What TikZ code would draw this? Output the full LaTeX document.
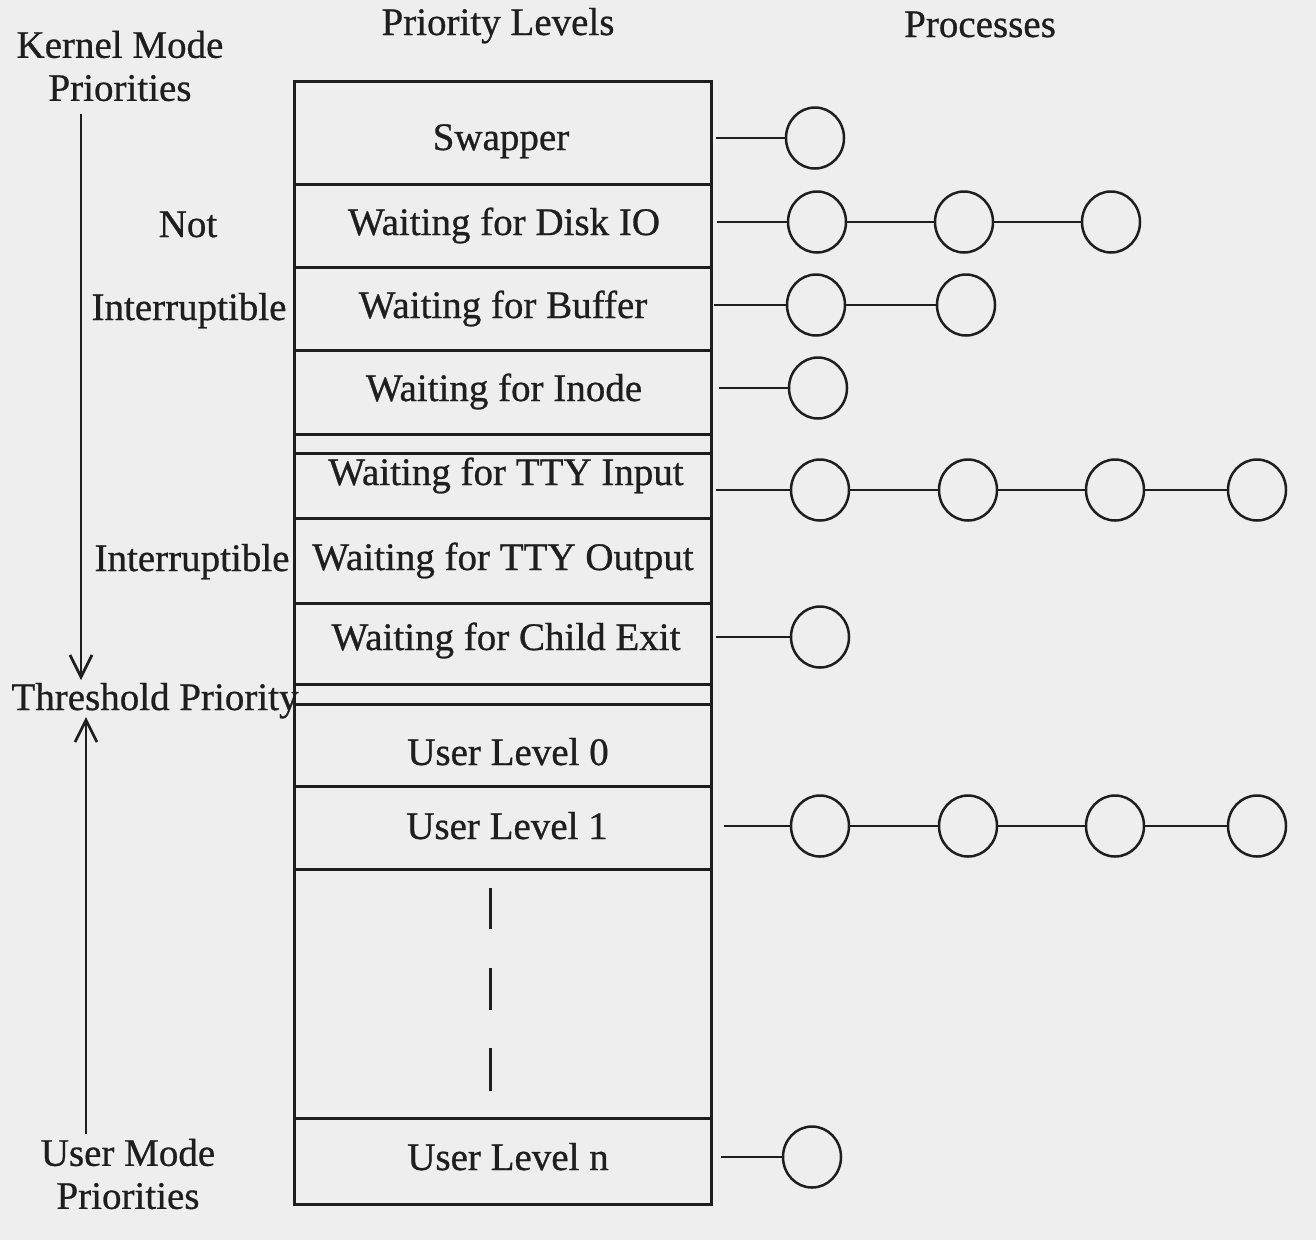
\documentclass[tikz,border=0pt]{standalone}
\usepackage{fontspec}
\setmainfont{Liberation Serif}[FakeBold=0.7]
\usetikzlibrary{arrows.meta,shapes.geometric}
\definecolor{ink}{HTML}{1E1E1E}
\definecolor{paper}{HTML}{EEEEEE}
\begin{document}
\begin{tikzpicture}[x=1pt,y=-1pt,
  every node/.style={text=ink, font=\fontsize{39}{43}\selectfont},
  lbl/.style={inner sep=0pt, anchor=base},
  two/.style={inner sep=0pt, anchor=center, align=center},
  cell/.style={draw=ink, line width=2.7pt, inner sep=0pt, minimum width=417pt, anchor=north west},
  proc/.style={draw=ink, line width=2.5pt, ellipse, inner sep=0pt, minimum width=58pt, minimum height=61pt},
  link/.style={draw=ink, line width=2.5pt},
  axis/.style={draw=ink, line width=2.7pt, -{Straight Barb[length=22pt,width=22pt,line width=2.7pt]}},
  dashmark/.style={draw=ink, line width=3pt}]
\fill[paper] (0,0) rectangle (1316,1240);
\useasboundingbox (0,0) rectangle (1316,1240);

% headers
\node[lbl] (hlev) at (498,35) {Priority Levels};
\node[lbl] (hproc) at (980,37) {Processes};

% priority table rows
\node[cell, minimum height=103pt] (r1) at (293,80) {};
\node[cell, minimum height=83pt] (r2) at (293,183) {};
\node[cell, minimum height=83pt] (r3) at (293,266) {};
\node[cell, minimum height=84pt] (r4) at (293,349) {};
\node[cell, minimum height=19pt] (r5) at (293,433) {};
\node[cell, minimum height=65pt] (r6) at (293,452) {};
\node[cell, minimum height=85pt] (r7) at (293,517) {};
\node[cell, minimum height=81pt] (r8) at (293,602) {};
\node[cell, minimum height=20pt] (r9) at (293,683) {};
\node[cell, minimum height=82pt] (r10) at (293,703) {};
\node[cell, minimum height=83pt] (r11) at (293,785) {};
\node[cell, minimum height=249pt] (r12) at (293,868) {};
\node[cell, minimum height=86pt] (r13) at (293,1117) {};

% row texts
\node[lbl] (tswap) at (501,150) {Swapper};
\node[lbl] (tdisk) at (504,235) {Waiting for Disk IO};
\node[lbl] (tbuf) at (503,318) {Waiting for Buffer};
\node[lbl] (tinode) at (504,401) {Waiting for Inode};
\node[lbl] (ttyin) at (506,485) {Waiting for TTY Input};
\node[lbl] (ttyout) at (503,570) {Waiting for TTY Output};
\node[lbl] (tchild) at (506,650) {Waiting for Child Exit};
\node[lbl] (tu0) at (508,765) {User Level 0};
\node[lbl] (tu1) at (507,839) {User Level 1};
\node[lbl] (tun) at (508,1170) {User Level n};

% vertical ellipsis dashes
\draw[dashmark] (490,888) -- (490,929);
\draw[dashmark] (490,968) -- (490,1010);
\draw[dashmark] (490,1048) -- (490,1091);

% left side labels
\node[two] (kern) at (120,66) {Kernel Mode\\Priorities};
\node[lbl] (tnot) at (188,237) {Not};
\node[lbl] (tint1) at (189,320) {Interruptible};
\node[lbl] (tint2) at (192,571) {Interruptible};
\node[lbl] (thr) at (155,710) {Threshold Priority};
\node[two] (umode) at (128,1174) {User Mode\\Priorities};

\coordinate (ktop) at (81,114);
\coordinate (ktip) at (81,680);
\coordinate (ubot) at (86,1134);
\coordinate (utip) at (86,717);
\draw[axis] (ktop) -- (ktip);
\draw[axis] (ubot) -- (utip);

% processes
\node[proc] (s1) at (815,138) {};
\node[proc] (d1) at (817,222) {};
\node[proc] (d2) at (964,222) {};
\node[proc] (d3) at (1111,222) {};
\node[proc] (b1) at (816,305) {};
\node[proc] (b2) at (966,305) {};
\node[proc] (i1) at (818,388) {};
\node[proc] (y1) at (820,490) {};
\node[proc] (y2) at (968,490) {};
\node[proc] (y3) at (1115,490) {};
\node[proc] (y4) at (1257,490) {};
\node[proc] (c1) at (820,637) {};
\node[proc] (u1) at (820,826) {};
\node[proc] (u2) at (968,826) {};
\node[proc] (u3) at (1115,826) {};
\node[proc] (u4) at (1257,826) {};
\node[proc] (n1) at (812,1157) {};

\coordinate (as) at (716,138);
\coordinate (ad) at (717,222);
\coordinate (ab) at (714,305);
\coordinate (ai) at (719,388);
\coordinate (ay) at (716,490);
\coordinate (ac) at (716,637);
\coordinate (au) at (724,826);
\coordinate (an) at (721,1157);

\draw[link] (as) -- (s1);
\draw[link] (ad) -- (d1) (d1) -- (d2) (d2) -- (d3);
\draw[link] (ab) -- (b1) (b1) -- (b2);
\draw[link] (ai) -- (i1);
\draw[link] (ay) -- (y1) (y1) -- (y2) (y2) -- (y3) (y3) -- (y4);
\draw[link] (ac) -- (c1);
\draw[link] (au) -- (u1) (u1) -- (u2) (u2) -- (u3) (u3) -- (u4);
\draw[link] (an) -- (n1);
\end{tikzpicture}
\end{document}
